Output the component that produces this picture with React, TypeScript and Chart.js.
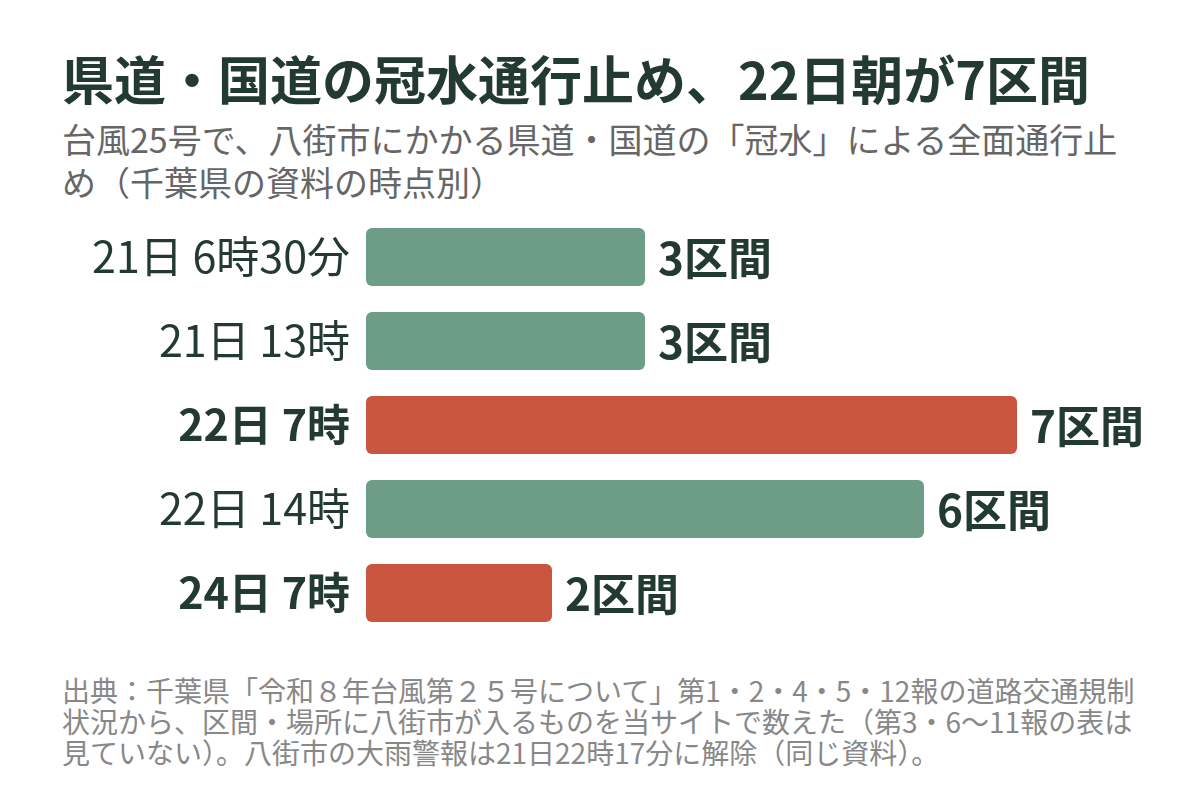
import React, { useEffect, useRef } from "react";
import { Chart, registerables } from "chart.js";

Chart.register(...registerables);

const categories = ["21日 6時30分", "21日 13時", "22日 7時", "22日 14時", "24日 7時"];
const sections = [3, 3, 7, 6, 2];
const highlight = [false, false, true, false, true];
const valueSuffix = "区間";

const FONT = '"Noto Sans CJK JP", "Noto Sans", sans-serif';
const DARK = "#233a30";
const GREEN = "#6d9d86";
const RED = "#c9553f";

const valueLabels = {
  id: "valueLabels",
  afterDatasetsDraw(chart: any) {
    const ctx = chart.ctx;
    const meta = chart.getDatasetMeta(0);
    ctx.save();
    ctx.font = `bold 44px ${FONT}`;
    ctx.fillStyle = DARK;
    ctx.textAlign = "left";
    ctx.textBaseline = "middle";
    meta.data.forEach((bar: any, i: number) => {
      ctx.fillText(`${sections[i]}${valueSuffix}`, bar.x + 13, bar.y + 1);
    });
    ctx.restore();
  },
};

export default function App() {
  const ref = useRef<HTMLCanvasElement>(null);
  useEffect(() => {
    document.body.style.margin = "0";
    const chart = new Chart(ref.current!, {
      type: "bar",
      data: {
        labels: categories,
        datasets: [
          {
            data: sections,
            backgroundColor: highlight.map((h) => (h ? RED : GREEN)),
            borderRadius: 6,
            borderSkipped: false,
            barPercentage: 0.69,
            categoryPercentage: 1,
          },
        ],
      },
      options: {
        indexAxis: "y",
        animation: false,
        responsive: false,
        maintainAspectRatio: false,
        layout: { padding: { left: 0, right: 90, top: 0, bottom: 0 } },
        plugins: { legend: { display: false }, tooltip: { enabled: false }, title: { display: false } },
        scales: {
          x: { display: false, min: 0, max: 8 },
          y: {
            grid: { display: false },
            border: { display: false },
            afterFit: (scale: any) => {
              scale.width = 366;
              scale.paddingTop = 0;
              scale.paddingBottom = 0;
            },
            ticks: {
              color: DARK,
              padding: 8,
              font: (ctx: any) => ({
                family: FONT,
                size: 43,
                weight: highlight[ctx.index] ? "bold" : "normal",
              }),
            },
          },
        },
      },
      plugins: [valueLabels],
    });
    return () => chart.destroy();
  }, []);

  return (
    <div style={{ position: "absolute", left: 0, top: 0, width: 1200, height: 806, background: "#fff", fontFamily: FONT, overflow: "hidden" }}>
      <div style={{ position: "absolute", left: 62, top: 46, fontSize: 52, fontWeight: "bold", color: DARK, lineHeight: "64px", whiteSpace: "nowrap" }}>
        県道・国道の冠水通行止め、22日朝が7区間
      </div>
      <div style={{ position: "absolute", left: 62, top: 117, fontSize: 34, color: "#666", lineHeight: "43px", whiteSpace: "nowrap" }}>
        台風25号で、八街市にかかる県道・国道の「冠水」による全面通行止
        <br />
        め（千葉県の資料の時点別）
      </div>
      <canvas ref={ref} width={1200} height={420} style={{ position: "absolute", left: 0, top: 215, width: 1200, height: 420 }} />
      <div style={{ position: "absolute", left: 62, top: 675, fontSize: 28, color: "#888", lineHeight: "31px", whiteSpace: "nowrap" }}>
        出典：千葉県「令和８年台風第２５号について」第1・2・4・5・12報の道路交通規制
        <br />
        状況から、区間・場所に八街市が入るものを当サイトで数えた（第3・6〜11報の表は
        <br />
        見ていない）。八街市の大雨警報は21日22時17分に解除（同じ資料）。
      </div>
    </div>
  );
}
